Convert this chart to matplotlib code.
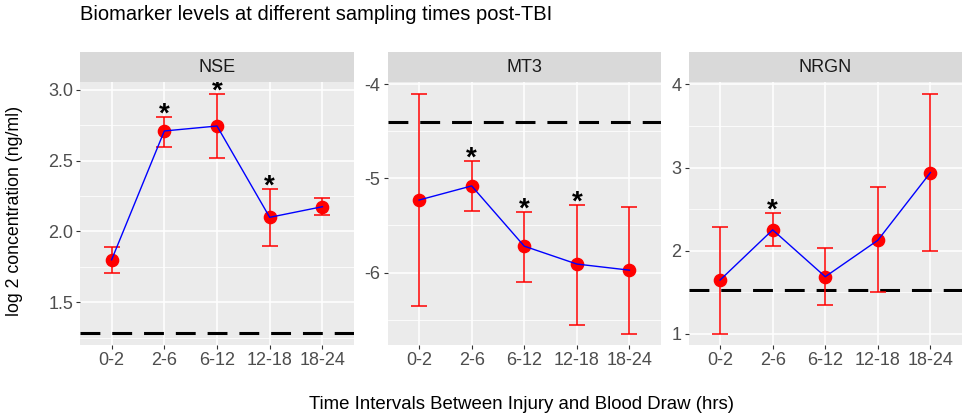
import numpy as np
import matplotlib
matplotlib.use("Agg")
import matplotlib.pyplot as plt

plt.rcParams['font.family'] = ['Liberation Sans', 'DejaVu Sans']

# data
intervals = ['0-2', '2-6', '6-12', '12-18', '18-24']
markers = ['NSE', 'MT3', 'NRGN']

nse_mean = [1.80, 2.71, 2.745, 2.10, 2.175]
nse_low = [1.71, 2.60, 2.52, 1.90, 2.115]
nse_high = [1.89, 2.81, 2.97, 2.30, 2.235]

mt3_mean = [-5.23, -5.08, -5.72, -5.91, -5.975]
mt3_low = [-6.36, -5.345, -6.10, -6.56, -6.65]
mt3_high = [-4.10, -4.81, -5.355, -5.28, -5.30]

nrgn_mean = [1.646, 2.25, 1.686, 2.125, 2.94]
nrgn_low = [1.00, 2.06, 1.345, 1.50, 1.99]
nrgn_high = [2.29, 2.45, 2.03, 2.76, 3.89]

ref_levels = [1.281, -4.404, 1.526]
signif = [[0, 1, 1, 1, 0], [0, 1, 1, 1, 0], [0, 1, 0, 0, 0]]

y_limits = [(1.198, 3.056), (-6.77, -3.976), (0.864, 4.03)]
y_major = [[1.5, 2.0, 2.5, 3.0], [-6, -5, -4], [1, 2, 3, 4]]
y_minor = [[1.25, 1.75, 2.25, 2.75], [-6.5, -5.5, -4.5], [1.5, 2.5, 3.5]]
y_fmt = ['{:.1f}', '{:g}', '{:g}']

means = [nse_mean, mt3_mean, nrgn_mean]
lows = [nse_low, mt3_low, nrgn_low]
highs = [nse_high, mt3_high, nrgn_high]

W, H = 964, 416
fig = plt.figure(figsize=(W / 100, H / 100), dpi=100)

panel_x = [(80, 354), (387.5, 661), (688.5, 962)]
top, bottom, strip_top = 82, 345, 52

x = np.arange(1, 6)
for i, name in enumerate(markers):
    x0, x1 = panel_x[i]
    ax = fig.add_axes([x0 / W, 1 - bottom / H, (x1 - x0) / W, (bottom - top) / H])
    ax.set_facecolor('#EBEBEB')
    for s in ax.spines.values():
        s.set_visible(False)
    ax.set_xlim(0.4, 5.6)
    ax.set_ylim(*y_limits[i])
    ax.set_xticks(x)
    ax.set_xticklabels(intervals)
    ax.set_yticks(y_major[i])
    ax.set_yticklabels([y_fmt[i].format(v) for v in y_major[i]])
    ax.set_yticks(y_minor[i], minor=True)
    ax.grid(which='major', color='white', lw=1.1, zorder=0)
    ax.grid(which='minor', axis='y', color='white', lw=0.55, zorder=0)
    ax.set_axisbelow(True)
    ax.tick_params(which='major', length=3, width=0.8, color='#333333',
                   labelsize=13, labelcolor='#4D4D4D', pad=2)
    ax.tick_params(which='minor', length=0)

    m = np.array(means[i])
    lo = np.array(lows[i])
    hi = np.array(highs[i])
    ax.axhline(ref_levels[i], color='black', lw=2.2, ls=(0, (6.5, 3.9)), zorder=2)
    ax.errorbar(x, m, yerr=[m - lo, hi - m], fmt='none', ecolor='#FF0000',
                elinewidth=1.1, capsize=5.8, capthick=1.1, zorder=3)
    ax.plot(x, m, 'o', color='#FF0000', ms=8.8, zorder=4)
    ax.plot(x, m, '-', color='#0000FF', lw=1.0, zorder=5)
    for k in range(5):
        if signif[i][k]:
            ax.annotate('*', (x[k], hi[k]), xytext=(0, -3.5), textcoords='offset points',
                        ha='center', va='baseline', fontsize=20, fontweight='bold',
                        color='black', zorder=6, annotation_clip=False)

    sax = fig.add_axes([x0 / W, 1 - top / H, (x1 - x0) / W, (top - strip_top) / H])
    sax.set_facecolor('#D9D9D9')
    sax.set_xticks([])
    sax.set_yticks([])
    for s in sax.spines.values():
        s.set_visible(False)
    sax.text(0.5, 0.5, name, ha='center', va='center', fontsize=13,
             color='#1A1A1A', transform=sax.transAxes)

fig.text(80 / W, 1 - 20 / H, 'Biomarker levels at different sampling times post-TBI',
         ha='left', va='baseline', fontsize=14.5, color='black')
fig.text(15 / W, 1 - 211 / H, 'log 2 concentration (ng/ml)', rotation=90,
         ha='center', va='center', fontsize=12.8, color='black')
fig.text(521.5 / W, 1 - 409 / H, 'Time Intervals Between Injury and Blood Draw (hrs)',
         ha='center', va='baseline', fontsize=13.4, color='black')

fig.savefig('out.png', dpi=100)
